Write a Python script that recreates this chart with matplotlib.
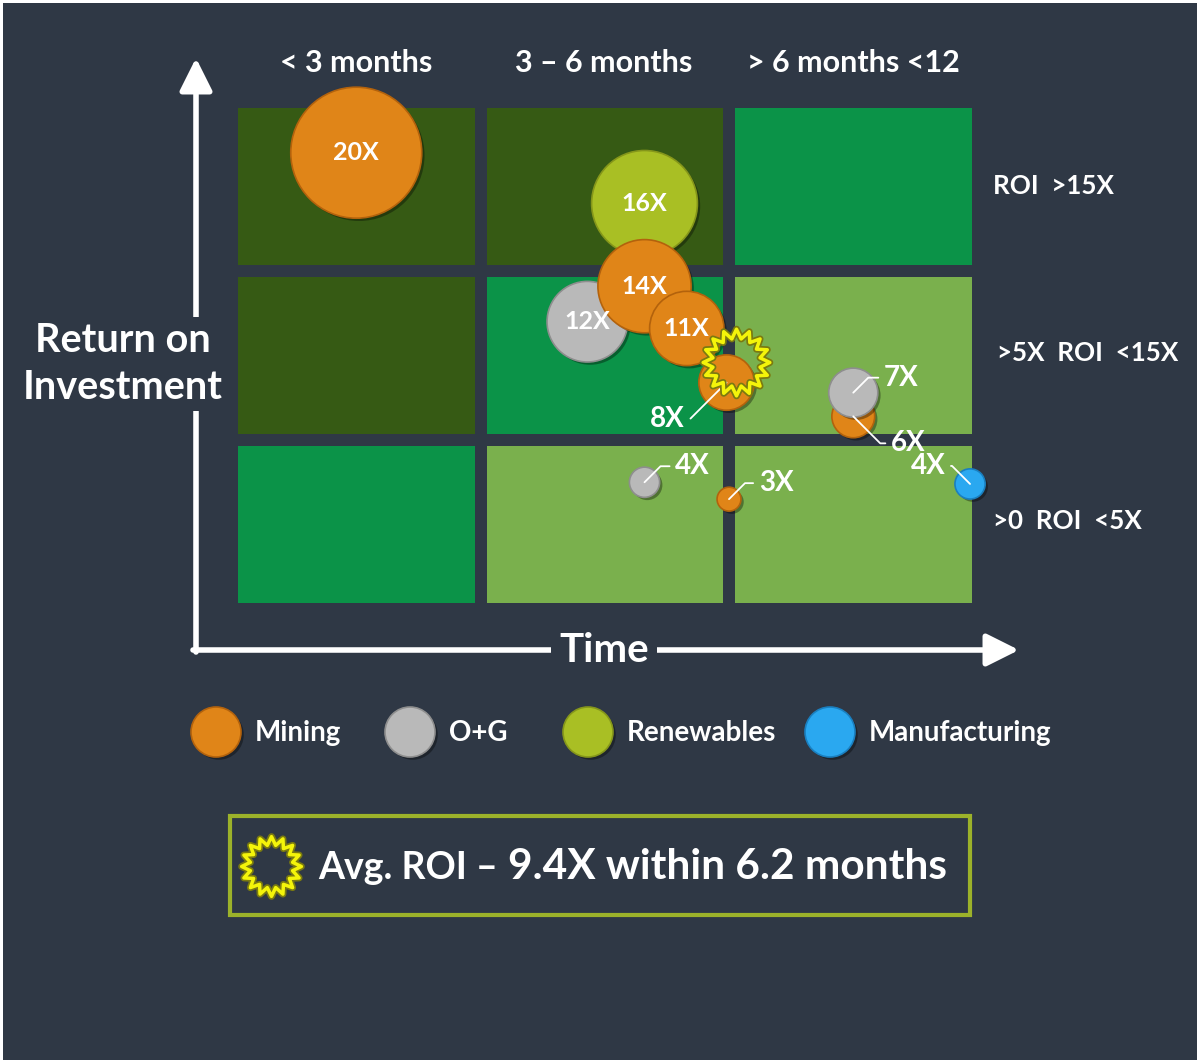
import numpy as np
import matplotlib
matplotlib.use("Agg")
import matplotlib.pyplot as plt
from matplotlib.patches import Rectangle
from matplotlib.path import Path
import matplotlib.patheffects as pe

# ---------------- data ----------------
time_bands = ["< 3 months", "3 \u2013 6 months", "> 6 months <12"]
roi_bands = [">0  ROI  <5X", ">5X  ROI  <15X", "ROI  >15X"]   # bottom -> top
# band fill level per (row bottom->top, col left->right)
band_level = [[1, 2, 2],
              [0, 1, 2],
              [0, 0, 1]]

sector = ["Mining", "Renewables", "O+G", "Mining", "Mining", "Mining",
          "Mining", "O+G", "O+G", "Mining", "Manufacturing"]
roi = [20, 16, 12, 14, 11, 8, 6, 7, 4, 3, 4]
time_pos = [0.50, 1.66, 1.43, 1.66, 1.83, 1.99, 2.50, 2.50, 1.66, 2.00, 2.97]
roi_pos = [2.70, 2.40, 1.70, 1.91, 1.66, 1.34, 1.14, 1.28, 0.75, 0.65, 0.74]
inside_label = [True, True, True, True, True, False, False, False, False, False, False]
label_offset = [None, None, None, None, None, (-59, -36), (55, -27), (48, 15),
                (48, 16), (47, 16), (-42, 18)]
label_angle = [None, None, None, None, None, 45, -45, 45, 45, 45, -45]

avg_roi = 9.4
avg_months = 6.2
avg_time_pos = 2.03
avg_roi_pos = 1.46

legend_sectors = ["Mining", "O+G", "Renewables", "Manufacturing"]

# ---------------- style ----------------
BG = "#2f3845"
band_colors = ["#365a14", "#0b9348", "#7ab04d"]
sector_colors = {"Mining": "#e08518", "O+G": "#b9b9b9",
                 "Renewables": "#a9bf24", "Manufacturing": "#2aa8f0"}
edge_colors = {"Mining": "#b3620c", "O+G": "#8e8e8e",
               "Renewables": "#85961a", "Manufacturing": "#1a7fbf"}
FONT = ["Lato", "DejaVu Sans"]
plt.rcParams["font.family"] = FONT

W, H = 1200, 1063
fig = plt.figure(figsize=(W / 100, H / 100), dpi=100, facecolor="white")

# overlay axes in pixel coordinates
ov = fig.add_axes([0, 0, 1, 1])
ov.set_xlim(0, W)
ov.set_ylim(H, 0)
ov.axis("off")
ov.add_patch(Rectangle((3, 3), W - 6, H - 6, facecolor=BG, edgecolor="none", zorder=0))

# main data axes
x0, x1, y0, y1 = 232, 977.5, 102, 609
ax = fig.add_axes([x0 / W, 1 - y1 / H, (x1 - x0) / W, (y1 - y0) / H])
ax.set_xlim(0, 3)
ax.set_ylim(0, 3)
ax.axis("off")
ax.patch.set_alpha(0)

gx, gy = 12 / 248.5, 12 / 169
for r in range(3):
    for c in range(3):
        ax.add_patch(Rectangle((c + gx / 2, r + gy / 2), 1 - gx, 1 - gy,
                               facecolor=band_colors[band_level[r][c]],
                               edgecolor="none", zorder=1))

shadow = [pe.SimplePatchShadow(offset=(2, -2), shadow_rgbFace="black", alpha=0.35), pe.Normal()]
for i in range(len(roi)):
    rad = 2.5 + 3.15 * roi[i]
    s = (2 * rad * 0.72) ** 2
    sc = ax.scatter([time_pos[i]], [roi_pos[i]], s=s, color=sector_colors[sector[i]],
                    edgecolor=edge_colors[sector[i]], linewidth=1.2, zorder=3 + i,
                    clip_on=False)
    sc.set_path_effects(shadow)
    if inside_label[i]:
        ax.text(time_pos[i], roi_pos[i], f"{roi[i]}X", color="white", fontsize=18,
                fontweight="bold", ha="center", va="center", zorder=30)
    else:
        ax.annotate(f"{roi[i]}X", xy=(time_pos[i], roi_pos[i]),
                    xytext=label_offset[i], textcoords="offset pixels",
                    color="white", fontsize=20, fontweight="bold",
                    ha="center", va="center", zorder=30,
                    arrowprops=dict(arrowstyle="-", color="white", lw=1.3,
                                    shrinkA=2, shrinkB=0,
                                    connectionstyle=f"angle,angleA=0,angleB={label_angle[i]},rad=0"),
                    annotation_clip=False)

# starburst marker
n = 16
ang = np.linspace(0, 2 * np.pi, 2 * n, endpoint=False) + np.pi / 2
rr = np.where(np.arange(2 * n) % 2 == 0, 1.0, 0.72)
verts = np.column_stack([rr * np.cos(ang), rr * np.sin(ang)])
verts = np.vstack([verts, verts[:1]])
star = Path(verts, closed=True)

ax.plot([avg_time_pos], [avg_roi_pos], marker=star, ms=48, mfc="none", mec="#7a7a10",
        mew=5, zorder=40, clip_on=False)
ax.plot([avg_time_pos], [avg_roi_pos], marker=star, ms=48, mfc="none", mec="#f4f40a",
        mew=2.5, zorder=41, clip_on=False)

# band labels
for c, t in enumerate(time_bands):
    ov.text([356, 604, 853][c], 63, t, color="white", fontsize=22, fontweight="bold",
            ha="center", va="center")
for r, t in enumerate(roi_bands):
    ov.text([993, 997, 993][r], [521, 353, 186][r], t, color="white", fontsize=18.7,
            fontweight="bold", ha="left", va="center")

# axes arrows
ov.annotate("", xy=(196, 58), xytext=(196, 652),
            arrowprops=dict(arrowstyle="-|>,head_length=0.9,head_width=0.45", color="white",
                            lw=4, shrinkA=0, shrinkB=0, mutation_scale=22))
ov.annotate("", xy=(1019, 650), xytext=(193, 650),
            arrowprops=dict(arrowstyle="-|>,head_length=0.9,head_width=0.45", color="white",
                            lw=4, shrinkA=0, shrinkB=0, mutation_scale=22))
ov.text(123, 364, "Return on\nInvestment", color="white", fontsize=28.5, fontweight="bold",
        ha="center", va="center", linespacing=1.32, zorder=5,
        bbox=dict(facecolor=BG, edgecolor="none", pad=4))
ov.text(604, 651, "Time", color="white", fontsize=29, fontweight="bold",
        ha="center", va="center", zorder=5,
        bbox=dict(facecolor=BG, edgecolor="none", pad=6))

# legend
leg_x = [216, 410, 588, 830]
for lx, name in zip(leg_x, legend_sectors):
    ov.scatter([lx], [732], s=(50 * 0.72) ** 2, color=sector_colors[name],
               edgecolor=edge_colors[name], linewidth=1.2, zorder=5).set_path_effects(shadow)
    ov.text(lx + 39, 733, name, color="white", fontsize=20, fontweight="bold",
            ha="left", va="center")

# summary box
ov.add_patch(Rectangle((230, 816), 740, 99, facecolor="none", edgecolor="#9cb22a", lw=3))
ov.plot([271], [866], marker=star, ms=43, mfc="none", mec="#7a7a10", mew=5)
ov.plot([271], [866], marker=star, ms=43, mfc="none", mec="#f4f40a", mew=2.5)
ov.text(318, 879, "Avg. ROI \u2013", color="white", fontsize=27, fontweight="bold",
        ha="left", va="baseline")
ov.text(508, 879, f"{avg_roi}X within {avg_months} months", color="white", fontsize=30.5,
        fontweight="bold", ha="left", va="baseline")

fig.savefig("out.png", dpi=100, facecolor="white")
